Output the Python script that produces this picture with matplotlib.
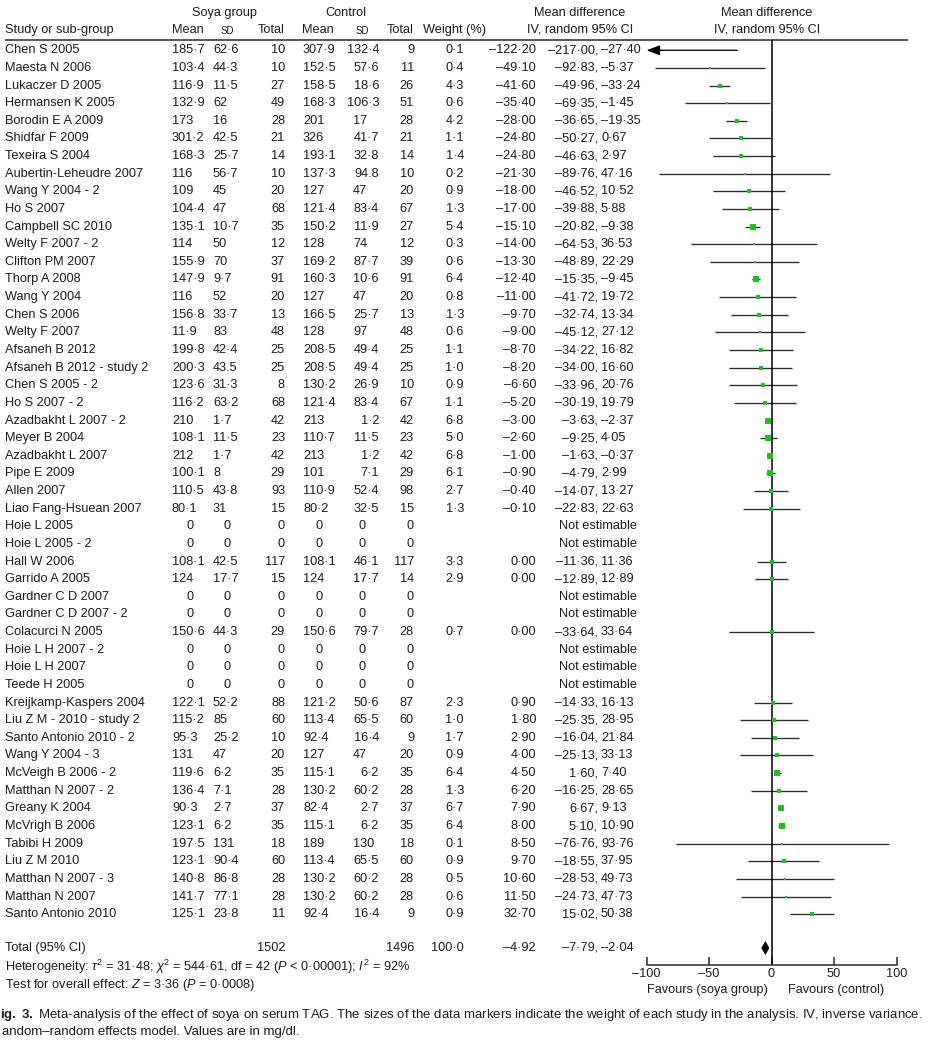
import math
import matplotlib
matplotlib.use('Agg')
import matplotlib.pyplot as plt
from matplotlib.patches import Polygon

plt.rcParams['font.family'] = ['Liberation Sans', 'DejaVu Sans']
plt.rcParams['mathtext.fontset'] = 'custom'
plt.rcParams['mathtext.rm'] = 'Liberation Sans'
plt.rcParams['mathtext.it'] = 'Liberation Sans:italic'
plt.rcParams['mathtext.bf'] = 'Liberation Sans:bold'

# ---------------- data ----------------
studies = ["Chen S 2005", "Maesta N 2006", "Lukaczer D 2005", "Hermansen K 2005",
           "Borodin E A 2009", "Shidfar F 2009", "Texeira S 2004", "Aubertin-Leheudre 2007",
           "Wang Y 2004 - 2", "Ho S 2007", "Campbell SC 2010", "Welty F 2007 - 2",
           "Clifton PM 2007", "Thorp A 2008", "Wang Y 2004", "Chen S 2006", "Welty F 2007",
           "Afsaneh B 2012", "Afsaneh B 2012 - study 2", "Chen S 2005 - 2", "Ho S 2007 - 2",
           "Azadbakht L 2007 - 2", "Meyer B 2004", "Azadbakht L 2007", "Pipe E 2009",
           "Allen 2007", "Liao Fang-Hsuean 2007", "Hoie L 2005", "Hoie L 2005 - 2",
           "Hall W 2006", "Garrido A 2005", "Gardner C D 2007", "Gardner C D 2007 - 2",
           "Colacurci N 2005", "Hoie L H 2007 - 2", "Hoie L H 2007", "Teede H 2005",
           "Kreijkamp-Kaspers 2004", "Liu Z M - 2010 - study 2", "Santo Antonio 2010 - 2",
           "Wang Y 2004 - 3", "McVeigh B 2006 - 2", "Matthan N 2007 - 2", "Greany K 2004",
           "McVrigh B 2006", "Tabibi H 2009", "Liu Z M 2010", "Matthan N 2007 - 3",
           "Matthan N 2007", "Santo Antonio 2010"]

soya_mean = ["185·7", "103·4", "116·9", "132·9", "173", "301·2", "168·3", "116", "109", "104·4",
             "135·1", "114", "155·9", "147·9", "116", "156·8", "11·9", "199·8", "200·3", "123·6",
             "116·2", "210", "108·1", "212", "100·1", "110·5", "80·1", "0", "0", "108·1",
             "124", "0", "0", "150·6", "0", "0", "0", "122·1", "115·2", "95·3",
             "131", "119·6", "136·4", "90·3", "123·1", "197·5", "123·1", "140·8", "141·7", "125·1"]
soya_sd = ["62·6", "44·3", "11·5", "62", "16", "42·5", "25·7", "56·7", "45", "47",
           "10·7", "50", "70", "9·7", "52", "33·7", "83", "42·4", "43.5", "31·3",
           "63·2", "1·7", "11·5", "1·7", "8", "43·8", "31", "0", "0", "42·5",
           "17·7", "0", "0", "44·3", "0", "0", "0", "52·2", "85", "25·2",
           "47", "6·2", "7·1", "2·7", "6·2", "131", "90·4", "86·8", "77·1", "23·8"]
soya_n = [10, 10, 27, 49, 28, 21, 14, 10, 20, 68, 35, 12, 37, 91, 20, 13, 48, 25, 25, 8,
          68, 42, 23, 42, 29, 93, 15, 0, 0, 117, 15, 0, 0, 29, 0, 0, 0, 88, 60, 10,
          20, 35, 28, 37, 35, 18, 60, 28, 28, 11]
ctrl_mean = ["307·9", "152·5", "158·5", "168·3", "201", "326", "193·1", "137·3", "127", "121·4",
             "150·2", "128", "169·2", "160·3", "127", "166·5", "128", "208·5", "208·5", "130·2",
             "121·4", "213", "110·7", "213", "101", "110·9", "80·2", "0", "0", "108·1",
             "124", "0", "0", "150·6", "0", "0", "0", "121·2", "113·4", "92·4",
             "127", "115·1", "130·2", "82·4", "115·1", "189", "113·4", "130·2", "130·2", "92·4"]
ctrl_sd = ["132·4", "57·6", "18·6", "106·3", "17", "41·7", "32·8", "94.8", "47", "83·4",
           "11·9", "74", "87·7", "10·6", "47", "25·7", "97", "49·4", "49·4", "26·9",
           "83·4", "1·2", "11·5", "1·2", "7·1", "52·4", "32·5", "0", "0", "46·1",
           "17·7", "0", "0", "79·7", "0", "0", "0", "50·6", "65·5", "16·4",
           "47", "6·2", "60·2", "2·7", "6·2", "130", "65·5", "60·2", "60·2", "16·4"]
ctrl_n = [9, 11, 26, 51, 28, 21, 14, 10, 20, 67, 27, 12, 39, 91, 20, 13, 48, 25, 25, 10,
          67, 42, 23, 42, 29, 98, 15, 0, 0, 117, 14, 0, 0, 28, 0, 0, 0, 87, 60, 9,
          20, 35, 28, 37, 35, 18, 60, 28, 28, 9]
weight = [0.1, 0.4, 4.3, 0.6, 4.2, 1.1, 1.4, 0.2, 0.9, 1.3, 5.4, 0.3, 0.6, 6.4, 0.8, 1.3, 0.6,
          1.1, 1.0, 0.9, 1.1, 6.8, 5.0, 6.8, 6.1, 2.7, 1.3, None, None, 3.3, 2.9, None, None,
          0.7, None, None, None, 2.3, 1.0, 1.7, 0.9, 6.4, 1.3, 6.7, 6.4, 0.1, 0.9, 0.5, 0.6, 0.9]
md = [-122.20, -49.10, -41.60, -35.40, -28.00, -24.80, -24.80, -21.30, -18.00, -17.00,
      -15.10, -14.00, -13.30, -12.40, -11.00, -9.70, -9.00, -8.70, -8.20, -6.60,
      -5.20, -3.00, -2.60, -1.00, -0.90, -0.40, -0.10, None, None, 0.00,
      0.00, None, None, 0.00, None, None, None, 0.90, 1.80, 2.90,
      4.00, 4.50, 6.20, 7.90, 8.00, 8.50, 9.70, 10.60, 11.50, 32.70]
ci_low = [-217.00, -92.83, -49.96, -69.35, -36.65, -50.27, -46.63, -89.76, -46.52, -39.88,
          -20.82, -64.53, -48.89, -15.35, -41.72, -32.74, -45.12, -34.22, -34.00, -33.96,
          -30.19, -3.63, -9.25, -1.63, -4.79, -14.07, -22.83, None, None, -11.36,
          -12.89, None, None, -33.64, None, None, None, -14.33, -25.35, -16.04,
          -25.13, 1.60, -16.25, 6.67, 5.10, -76.76, -18.55, -28.53, -24.73, 15.02]
ci_high = [-27.40, -5.37, -33.24, -1.45, -19.35, 0.67, 2.97, 47.16, 10.52, 5.88,
           -9.38, 36.53, 22.29, -9.45, 19.72, 13.34, 27.12, 16.82, 16.60, 20.76,
           19.79, -2.37, 4.05, -0.37, 2.99, 13.27, 22.63, None, None, 11.36,
           12.89, None, None, 33.64, None, None, None, 16.13, 28.95, 21.84,
           33.13, 7.40, 28.65, 9.13, 10.90, 93.76, 37.95, 49.73, 47.73, 50.38]

total_soya_n = 1502
total_ctrl_n = 1496
total_weight = 100.0
total_md = -4.92
total_low = -7.79
total_high = -2.04

xticks = [-100, -50, 0, 50, 100]
xtick_labels = ["–100", "–50", "0", "50", "100"]

# ---------------- layout ----------------
W, H = 950, 1051
fig = plt.figure(figsize=(W / 100, H / 100), dpi=100)
tax = fig.add_axes([0, 0, 1, 1])
tax.set_xlim(0, W)
tax.set_ylim(H, 0)
tax.axis('off')

ROW0, DY = 50.3, 17.63
TOTAL_PX = 948


def row_y(i):
    return ROW0 + DY * i


FS = 9.2
TC = '#1c1c1c'
LC = '#2a2a2a'
GREEN = '#1fc01f'


def T(x, y, s, ha='left', fs=FS, **kw):
    tax.text(x, y, s, ha=ha, va='center', fontsize=fs, color=TC, **kw)


def f2(v):
    return f"{v:.2f}".replace('.', '·').replace('-', '–')


def f1(v):
    return f"{v:.1f}".replace('.', '·')


def ci_text(y, lo, hi):
    T(598, y, f2(lo) + ",", ha='right')
    T(601, y, f2(hi), ha='left')


# headers
T(224, 13, "Soya group", ha='center')
T(346, 13, "Control", ha='center')
T(5, 30, "Study or sub-group")
T(172, 30, "Mean")
T(227, 30.5, "SD", ha='center', fs=7)
T(285, 30, "Total", ha='right')
T(302, 30, "Mean")
T(362, 30.5, "SD", ha='center', fs=7)
T(414, 30, "Total", ha='right')
T(423, 30, "Weight (%)")
T(580, 13, "Mean difference", ha='center')
T(580, 30, "IV, random 95% CI", ha='center')
T(767, 13, "Mean difference", ha='center')
T(767, 30, "IV, random 95% CI", ha='center')
tax.plot([5, 908], [40, 40], color=LC, lw=1.1, solid_capstyle='butt')

# table rows
for i, name in enumerate(studies):
    y = row_y(i)
    T(5, y, name)
    s = soya_mean[i]
    T(190 if s == "0" else 172, y, s, ha='center' if s == "0" else 'left')
    s = soya_sd[i]
    T(227 if s == "0" else 213, y, s, ha='center' if s == "0" else 'left')
    T(285, y, str(soya_n[i]), ha='right')
    s = ctrl_mean[i]
    T(319 if s == "0" else 303, y, s, ha='center' if s == "0" else 'left')
    s = ctrl_sd[i]
    if s == "0":
        T(362, y, s, ha='center')
    elif ('·' in s) or ('.' in s):
        T(379, y, s, ha='right')
    else:
        T(353, y, s, ha='left')
    T(414, y, str(ctrl_n[i]), ha='right')
    if md[i] is None:
        T(598, y, "Not estimable", ha='center')
    else:
        T(464, y, f1(weight[i]), ha='right')
        T(536, y, f2(md[i]), ha='right')
        ci_text(y, ci_low[i], ci_high[i])

# totals
T(5, TOTAL_PX, "Total (95% CI)")
T(285, TOTAL_PX, str(total_soya_n), ha='right')
T(414, TOTAL_PX, str(total_ctrl_n), ha='right')
T(464, TOTAL_PX, f1(total_weight), ha='right')
T(536, TOTAL_PX, f2(total_md), ha='right')
ci_text(TOTAL_PX, total_low, total_high)
T(5, 967, r"Heterogeneity: $\tau^2$ = 31·48; $\chi^2$ = 544·61, df = 42 ($P$ < 0·00001); $I^2$ = 92%")
T(5, 985, r"Test for overall effect: $Z$ = 3·36 ($P$ = 0·0008)")

# favours labels
T(768, 990, "Favours (soya group)", ha='right')
T(788, 990, "Favours (control)", ha='left')

# caption
T(0, 1015, r"$\mathbf{ig.\ 3.}$ Meta-analysis of the effect of soya on serum TAG. The sizes of the data markers "
           r"indicate the weight of each study in the analysis. IV, inverse variance.", fs=9.5)
T(2, 1032, "andom–random effects model. Values are in mg/dl.", fs=9.5)

# ---------------- forest plot ----------------
top_px, bot_px = 40, 965
left_px, right_px = 621.5, 921.5
fax = fig.add_axes([left_px / W, 1 - bot_px / H, (right_px - left_px) / W, (bot_px - top_px) / H])
fax.set_xlim(-120, 120)
fax.set_ylim((bot_px - ROW0) / DY, (top_px - ROW0) / DY)
fax.patch.set_alpha(0)

LW = 0.95
for i in range(len(studies)):
    if md[i] is None:
        continue
    lo, hi = ci_low[i], ci_high[i]
    if lo < -100:
        fax.annotate('', xy=(-100, i), xytext=(hi, i),
                     arrowprops=dict(arrowstyle='-|>,head_length=0.8,head_width=0.3',
                                     color='black', lw=LW, shrinkA=0, shrinkB=0))
    else:
        fax.plot([lo, min(hi, 100)], [i, i], color=LC, lw=LW, solid_capstyle='butt')
    if -100 <= md[i] <= 100:
        size_px = 1.8 + 1.5 * math.sqrt(weight[i])
        fax.plot(md[i], i, marker='s', ms=size_px * 0.72, color=GREEN, mew=0, zorder=3)

ty = (TOTAL_PX - ROW0) / DY
fax.add_patch(Polygon([(total_low, ty), (total_md, ty - 0.36), (total_high, ty), (total_md, ty + 0.36)],
                      closed=True, fc='black', ec='black', lw=0.5))

fax.axvline(0, color='black', lw=1.1)
for s in ['top', 'left', 'right']:
    fax.spines[s].set_visible(False)
fax.spines['bottom'].set_bounds(-100, 100)
fax.spines['bottom'].set_linewidth(1.1)
fax.spines['bottom'].set_color(LC)
fax.set_xticks(xticks)
fax.set_xticklabels(xtick_labels)
fax.tick_params(axis='x', direction='in', length=5.8, width=1.1, pad=2.5, labelsize=FS,
                colors=LC, labelcolor=TC)
fax.set_yticks([])

fig.savefig('out.png', dpi=100)
